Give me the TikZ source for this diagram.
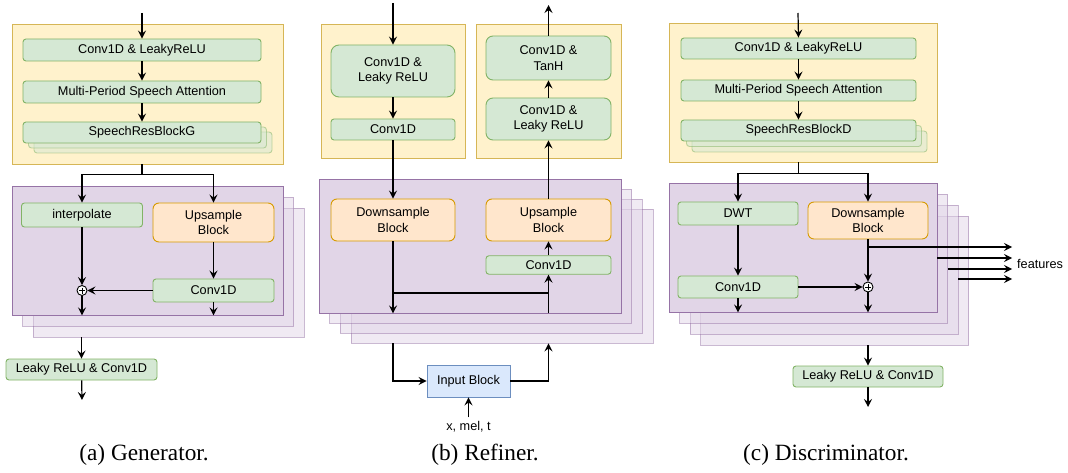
\documentclass[tikz,border=0pt]{standalone}
\usepackage{fontspec}
\setmainfont{Liberation Sans}
\newfontfamily\capfont{Liberation Serif}
\usetikzlibrary{arrows.meta}
\definecolor{ylf}{HTML}{FFF2CC}
\definecolor{ylb}{HTML}{D6B656}
\definecolor{grf}{HTML}{D5E8D4}
\definecolor{grb}{HTML}{82B366}
\definecolor{orf}{HTML}{FFE6CC}
\definecolor{orb}{HTML}{D79B00}
\definecolor{puf}{HTML}{E1D5E7}
\definecolor{pub}{HTML}{9673A6}
\definecolor{blf}{HTML}{DAE8FC}
\definecolor{blb}{HTML}{6C8EBF}
\newcommand\boxfont{\fontsize{12.7}{15.5}\selectfont}
\newcommand\captfont{\capfont\fontsize{23.3}{26}\selectfont}
\begin{document}
\begin{tikzpicture}[x=1pt,y=-1pt,
  arr/.style={-{Stealth[length=8pt,width=8pt,inset=3pt]}, line width=1.2pt},
  ln/.style={line width=1.2pt},
  yel/.style={draw=ylb, fill=ylf, line width=0.9pt, inner sep=0pt},
  grn/.style={draw=grb, fill=grf, line width=0.9pt, rounded corners=3pt, inner sep=0pt, align=center, font=\boxfont},
  org/.style={draw=orb, fill=orf, line width=0.9pt, rounded corners=6pt, inner sep=0pt, align=center, font=\boxfont},
  pur/.style={draw=pub, fill=puf, line width=0.9pt, inner sep=0pt},
  blu/.style={draw=blb, fill=blf, line width=0.9pt, inner sep=0pt, align=center, font=\boxfont},
  ghost/.style={fill opacity=0.5, draw opacity=0.5},
  plus/.style={circle, draw, fill=white, line width=0.9pt, minimum size=10pt, inner sep=0pt,
    path picture={\draw[line width=0.7pt] ([yshift=3pt]path picture bounding box.center) -- ([yshift=-3pt]path picture bounding box.center);
                  \draw[line width=0.7pt] ([xshift=3pt]path picture bounding box.center) -- ([xshift=-3pt]path picture bounding box.center);}},
  captext/.style={font=\captfont, inner sep=0pt}
]
\useasboundingbox (0,0) rectangle (1068,473);

%% ================= (a) Generator =================
\node[yel, minimum width=271pt, minimum height=140pt] (yG) at (147.5,94) {};
\node[grn, minimum width=238pt, minimum height=22pt] (gc1) at (142,50) {Conv1D \& LeakyReLU};
\node[grn, minimum width=238pt, minimum height=22pt] (gmpa) at (142,92) {Multi-Period Speech Attention};
\node[grn, ghost, minimum width=238pt, minimum height=21pt] (gres2) at (153,142.5) {};
\node[grn, ghost, minimum width=238pt, minimum height=21pt] (gres1) at (147.5,137.5) {};
\node[grn, minimum width=238pt, minimum height=21pt] (gres) at (142,132.5) {SpeechResBlockG};

\node[pur, ghost, minimum width=271pt, minimum height=129pt] (gP2) at (168.5,272.5) {};
\node[pur, ghost, minimum width=271pt, minimum height=129pt] (gP1) at (158,261.5) {};
\node[pur, minimum width=271pt, minimum height=129pt] (gP) at (147.5,250.5) {};
\node[grn, minimum width=121pt, minimum height=24pt] (ginterp) at (82,215) {interpolate};
\node[org, minimum width=121pt, minimum height=39pt] (gup) at (213.5,222.5) {Upsample\\Block};
\node[grn, minimum width=121pt, minimum height=23pt] (gconv) at (213.5,290.5) {Conv1D};
\node[plus] (gplus) at (82,290.5) {};
\node[grn, minimum width=151pt, minimum height=21pt] (gout) at (81.5,369.5) {Leaky ReLU \& Conv1D};

\coordinate (gin) at (142,13);
\coordinate (gend) at (82,400);
\draw[arr] (gin) -- (gc1.north);
\draw[arr] (gc1) -- (gmpa);
\draw[arr] (gmpa) -- (gres);
\draw[ln] (yG.south -| gres) -- ++(0,10) coordinate (gs);
\draw[arr] (gs) -| (ginterp.north);
\draw[arr] (gs) -| (gup.north);
\draw[arr] (ginterp) -- (gplus);
\draw[arr] (gup) -- (gconv);
\draw[arr] (gconv) -- (gplus);
\draw[arr] (gplus) -- (gplus |- gP.south);
\draw[arr] (gconv) -- (gconv |- gP.south);
\draw[arr] (gP2.south -| gout) -- (gout);
\draw[arr] (gout) -- (gend);

%% ================= (b) Refiner =================
\node[yel, minimum width=144pt, minimum height=134pt] (yL) at (393,91) {};
\node[grn, rounded corners=8pt, minimum width=124pt, minimum height=52pt] (rc1) at (393,71) {Conv1D \&\\Leaky ReLU};
\node[grn, minimum width=124pt, minimum height=21pt] (rc2) at (393,129.5) {Conv1D};
\node[yel, minimum width=145pt, minimum height=134pt] (yR) at (548.5,91) {};
\node[grn, rounded corners=7pt, minimum width=125pt, minimum height=44pt] (rtanh) at (548.5,58) {Conv1D \&\\TanH};
\node[grn, rounded corners=7pt, minimum width=125pt, minimum height=42pt] (rleaky) at (548.5,119) {Conv1D \&\\Leaky ReLU};

\node[pur, ghost, minimum width=302pt, minimum height=134pt] (rP3) at (502,276) {};
\node[pur, ghost, minimum width=302pt, minimum height=134pt] (rP2) at (491.4,266) {};
\node[pur, ghost, minimum width=302pt, minimum height=134pt] (rP1) at (480.7,256) {};
\node[pur, minimum width=302pt, minimum height=134pt] (rP) at (470,246) {};
\node[org, minimum width=124pt, minimum height=42pt] (rdown) at (393,220) {Downsample\\Block};
\node[org, minimum width=125pt, minimum height=42pt] (rup) at (548.5,220) {Upsample\\Block};
\node[grn, minimum width=125pt, minimum height=18.5pt] (rconv) at (548.5,265) {Conv1D};
\node[blu, minimum width=83pt, minimum height=32pt] (rin) at (468.5,381) {Input Block};
\node[font=\boxfont, inner sep=0pt] (xin) at (468.5,427) {x, mel, t};

\coordinate (rtopin) at (393,3);
\coordinate (rtopout) at (548.5,5);
\coordinate (rbr) at (393,293);
\draw[arr] (rtopin) -- (rc1.north);
\draw[arr] (rc1) -- (rc2);
\draw[arr] (rc2) -- (rdown);
\draw[arr] (rdown) -- (rdown |- rP.south);
\draw[ln] (rbr) -- (rbr -| rconv);
\draw[arr] (rconv |- rP.south) -- (rconv.south);
\draw[arr] (rconv) -- (rup);
\draw[arr] (rup) -- (rleaky);
\draw[arr] (rleaky) -- (rtanh);
\draw[arr] (rtanh) -- (rtopout);
\draw[arr] (rP3.south -| rdown) |- (rin.west);
\draw[arr] (rin.east) -| (rup |- rP3.south);
\draw[arr, shorten <=4pt] (xin.north) -- (rin.south);

%% ================= (c) Discriminator =================
\node[yel, minimum width=268pt, minimum height=139pt] (yD) at (803,92.5) {};
\node[grn, minimum width=235pt, minimum height=21pt] (dc1) at (798.5,48.5) {Conv1D \& LeakyReLU};
\node[grn, minimum width=235pt, minimum height=21pt] (dmpa) at (798.5,90.5) {Multi-Period Speech Attention};
\node[grn, ghost, minimum width=235pt, minimum height=21pt] (dres2) at (809.5,141.5) {};
\node[grn, ghost, minimum width=235pt, minimum height=21pt] (dres1) at (804,136) {};
\node[grn, minimum width=235pt, minimum height=21pt] (dres) at (798.5,130.5) {SpeechResBlockD};

\node[pur, ghost, minimum width=268pt, minimum height=129pt] (dP3) at (834.5,280.5) {};
\node[pur, ghost, minimum width=268pt, minimum height=129pt] (dP2) at (824,269.5) {};
\node[pur, ghost, minimum width=268pt, minimum height=129pt] (dP1) at (813.5,258.5) {};
\node[pur, minimum width=268pt, minimum height=129pt] (dP) at (803,247.5) {};
\node[grn, minimum width=120pt, minimum height=23pt] (ddwt) at (738,213.5) {DWT};
\node[org, minimum width=120pt, minimum height=37pt] (ddown) at (868,220.5) {Downsample\\Block};
\node[grn, minimum width=120pt, minimum height=22pt] (dconv) at (738,287) {Conv1D};
\node[plus] (dplus) at (868,287) {};
\node[grn, minimum width=150pt, minimum height=21pt] (dout) at (868,376.5) {Leaky ReLU \& Conv1D};
\node[font=\boxfont, inner sep=0pt, anchor=west] (feat) at (1017,264) {features};

\coordinate (din) at (798,13);
\coordinate (dend) at (868,407);
\coordinate (fe1) at (1012,247);
\coordinate (fe2) at (1012,258);
\coordinate (fe3) at (1012,269);
\coordinate (fe4) at (1012,279);
\draw[arr] (din) -- (dc1.north);
\draw[arr] (dc1) -- (dmpa);
\draw[arr] (dmpa) -- (dres);
\draw[ln] (yD.south -| dres) -- ++(0,11) coordinate (ds);
\draw[arr] (ds) -| (ddwt.north);
\draw[arr] (ds) -| (ddown.north);
\draw[arr] (ddwt) -- (dconv);
\draw[arr] (dconv) -- (dplus);
\draw[arr] (ddown) -- (dplus);
\draw[arr] (dplus) -- (dplus |- dP.south);
\draw[arr] (dconv) -- (dconv |- dP.south);
\draw[arr] (ddown |- fe1) -- (fe1);
\draw[arr] (dP.east |- fe2) -- (fe2);
\draw[arr] (dP1.east |- fe3) -- (fe3);
\draw[arr] (dP2.east |- fe4) -- (fe4);
\draw[arr] (dP3.south -| dout) -- (dout);
\draw[arr] (dout) -- (dend);

%% ================= captions =================
\node[captext] (capa) at (144,455) {(a) Generator.};
\node[captext] (capb) at (485,455) {(b) Refiner.};
\node[captext] (capc) at (826,455) {(c) Discriminator.};
\end{tikzpicture}
\end{document}
